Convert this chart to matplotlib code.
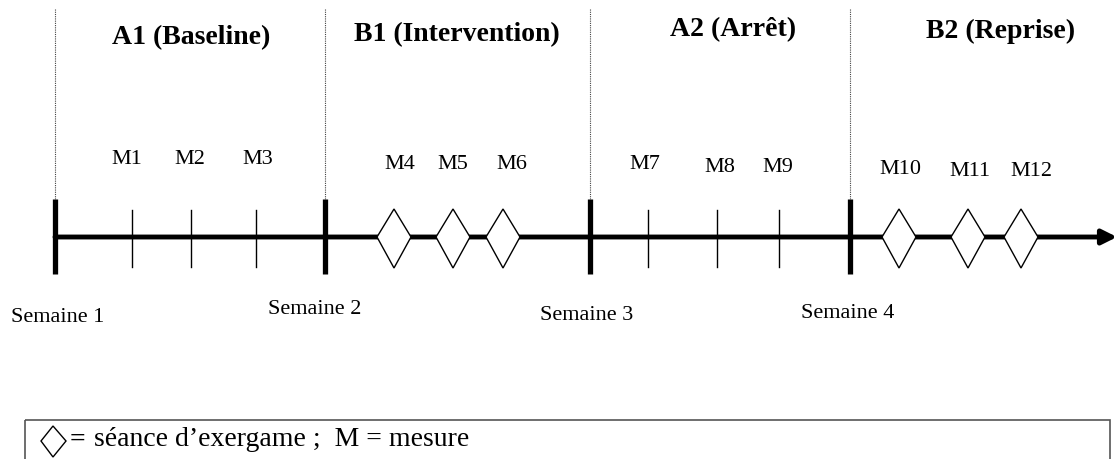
import matplotlib.pyplot as plt
from matplotlib.patches import Polygon, Rectangle

# --- diagram data (pixel layout of the original figure) ---
week_labels = ["Semaine 1", "Semaine 2", "Semaine 3", "Semaine 4"]
week_x = [55, 325, 590, 850]
week_label_x = [58, 315, 587, 848]
week_label_y = [318, 310, 316, 314]

phase_titles = ["A1 (Baseline)", "B1 (Intervention)", "A2 (Arrêt)", "B2 (Reprise)"]
phase_x = [191, 457, 733, 1001]
phase_y = [44, 41, 36, 38]

measures = ["M1", "M2", "M3", "M4", "M5", "M6", "M7", "M8", "M9", "M10", "M11", "M12"]
measure_label_x = [127, 190, 258, 400, 453, 512, 645, 720, 778, 900, 970, 1031]
measure_label_y = [160, 160, 160, 165, 165, 165, 165, 168, 168, 170, 172, 172]
mark_x = [132, 191, 256, 394, 453, 503, 648, 717, 779, 899, 968, 1021]
is_session = [False] * 3 + [True] * 3 + [False] * 3 + [True] * 3

axis_y = 238
legend_text = "séance d\u2019exergame ;  M = mesure"

plt.rcParams["font.family"] = ["Liberation Serif", "DejaVu Serif"]

fig = plt.figure(figsize=(11.17, 4.6), dpi=100)
ax = fig.add_axes([0, 0, 1, 1])
ax.set_xlim(0, 1117)
ax.set_ylim(460, 0)
ax.axis("off")

# main time axis with arrow
ax.annotate("", xy=(1117, axis_y), xytext=(week_x[0], axis_y),
            arrowprops=dict(arrowstyle="-|>", lw=3.5, color="black",
                            mutation_scale=22, shrinkA=0, shrinkB=0))

# week separators
for x in week_x:
    ax.plot([x, x], [200, 275], color="black", lw=3.8, solid_capstyle="butt")
    ax.plot([x, x], [10, 200], color="#444444", lw=0.8, ls=(0, (1, 1)))

# measures: ticks (no session) or diamonds (session)
for x, sess in zip(mark_x, is_session):
    if sess:
        ax.add_patch(Polygon([(x - 17, axis_y), (x, 210), (x + 17, axis_y), (x, 269)],
                             closed=True, facecolor="white", edgecolor="black", lw=1.0, zorder=5))
    else:
        ax.plot([x, x], [211, 268], color="black", lw=1.0)

for lab, x, y in zip(measures, measure_label_x, measure_label_y):
    ax.text(x, y, lab, ha="center", va="center", fontsize=16)

for lab, x, y in zip(phase_titles, phase_x, phase_y):
    ax.text(x, y, lab, ha="center", va="baseline", fontsize=20, fontweight="bold")

for lab, x, y in zip(week_labels, week_label_x, week_label_y):
    ax.text(x, y, lab, ha="center", va="center", fontsize=16)

# legend box
ax.add_patch(Rectangle((25, 421), 1085, 60, facecolor="none", edgecolor="#555555", lw=1.2, clip_on=True))
ax.add_patch(Polygon([(41, 442), (53, 427), (66, 442), (53, 458)], closed=True,
                     facecolor="white", edgecolor="black", lw=1.0))
ax.text(70, 440, "=", ha="left", va="center", fontsize=20, fontweight="bold")
ax.text(94, 440, legend_text, ha="left", va="center", fontsize=20)

plt.savefig("out.png", dpi=100)
